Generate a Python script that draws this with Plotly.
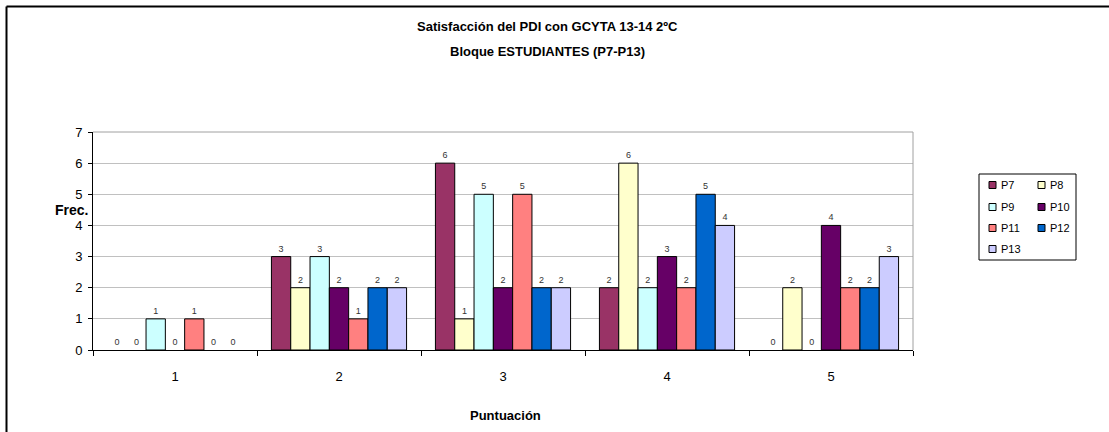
import plotly.graph_objects as go

# Score categories on the x axis
puntuacion = ["1", "2", "3", "4", "5"]

# Frequencies per question (P7-P13) for each score
p7 = [0, 3, 6, 2, 0]
p8 = [0, 2, 1, 6, 2]
p9 = [1, 3, 5, 2, 0]
p10 = [0, 2, 2, 3, 4]
p11 = [1, 1, 5, 2, 2]
p12 = [0, 2, 2, 5, 2]
p13 = [0, 2, 2, 4, 3]

series_names = ["P7", "P8", "P9", "P10", "P11", "P12", "P13"]
series_values = [p7, p8, p9, p10, p11, p12, p13]
series_colors = ["#993366", "#FFFFCC", "#CCFFFF", "#660066", "#FF8080", "#0066CC", "#CCCCFF"]

W, H = 1109, 432
L, R, T, B = 93, 196, 132, 82

fig = go.Figure()
for name, vals, col in zip(series_names, series_values, series_colors):
    fig.add_trace(go.Bar(
        x=puntuacion, y=vals, name=name,
        # no outline on empty bars
        marker=dict(color=col, line=dict(color="#000000",
                                         width=[1 if v > 0 else 0 for v in vals])),
        text=[str(v) for v in vals], textposition="outside",
        textfont=dict(family="Arial", size=9, color="#333333"),
        cliponaxis=False, showlegend=False,
    ))

pw = W - L - R
ph = H - T - B


def px_x(v):
    return (v - L) / pw


def px_y(v):
    return 1 - (v - T) / ph


annotations = [
    dict(text="<b>Satisfacción del PDI con GCYTA 13-14 2ºC</b>", xref="paper", yref="paper",
         x=px_x(547), y=px_y(27), xanchor="center", yanchor="middle",
         showarrow=False, font=dict(family="Arial", size=13)),
    dict(text="<b>Bloque ESTUDIANTES (P7-P13)</b>", xref="paper", yref="paper",
         x=px_x(547), y=px_y(51), xanchor="center", yanchor="middle",
         showarrow=False, font=dict(family="Arial", size=13)),
    dict(text="<b>Frec.</b>", xref="paper", yref="paper",
         x=px_x(90), y=px_y(210), xanchor="right", yanchor="middle",
         showarrow=False, font=dict(family="Arial", size=14)),
    dict(text="<b>Puntuación</b>", xref="paper", yref="paper",
         x=px_x(505), y=px_y(415), xanchor="center", yanchor="middle",
         showarrow=False, font=dict(family="Arial", size=13)),
]

shapes = [
    # plot-area frame (top and right edges in grey)
    dict(type="line", xref="paper", yref="paper", x0=0, x1=1, y0=1, y1=1,
         line=dict(color="#A0A0A0", width=1)),
    dict(type="line", xref="paper", yref="paper", x0=1, x1=1, y0=0, y1=1,
         line=dict(color="#A0A0A0", width=1)),
    # chart-area border
    dict(type="line", xref="paper", yref="paper",
         x0=px_x(6.5), x1=px_x(1120), y0=px_y(6.5), y1=px_y(6.5),
         line=dict(color="#000000", width=2)),
    dict(type="line", xref="paper", yref="paper",
         x0=px_x(6.5), x1=px_x(6.5), y0=px_y(6.5), y1=px_y(445),
         line=dict(color="#000000", width=2)),
    # legend box
    dict(type="rect", xref="paper", yref="paper",
         x0=px_x(979), x1=px_x(1076), y0=px_y(174), y1=px_y(260),
         line=dict(color="#000000", width=1), fillcolor="white"),
]

# two-column legend: swatch + label for each series
col_x = [989, 1038]
row_y = [185, 207, 228, 249]
for i, (name, col) in enumerate(zip(series_names, series_colors)):
    cx = col_x[i % 2]
    cy = row_y[i // 2]
    shapes.append(dict(type="rect", xref="paper", yref="paper",
                       x0=px_x(cx), x1=px_x(cx + 7), y0=px_y(cy - 3.5), y1=px_y(cy + 3.5),
                       line=dict(color="#000000", width=1), fillcolor=col))
    annotations.append(dict(text=name, xref="paper", yref="paper",
                            x=px_x(cx + 10), y=px_y(cy), xanchor="left", yanchor="middle",
                            showarrow=False, font=dict(family="Arial", size=11)))

fig.update_layout(
    width=W, height=H,
    margin=dict(l=L, r=R, t=T, b=B, autoexpand=False),
    paper_bgcolor="white", plot_bgcolor="white",
    barmode="group", bargap=0.176, bargroupgap=0,
    font=dict(family="Arial", color="#000000"),
    showlegend=False,
    xaxis=dict(
        type="category", tickson="boundaries", ticks="outside", ticklen=5,
        tickcolor="#000000", showline=True, linecolor="#000000", linewidth=1,
        showgrid=False, tickfont=dict(family="Arial", size=13),
        range=[-0.5, 4.5], ticklabelstandoff=14,
    ),
    yaxis=dict(
        range=[0, 7], dtick=1, ticks="outside", ticklen=4, tickcolor="#000000",
        showline=True, linecolor="#000000", linewidth=1,
        showgrid=True, gridcolor="#C0C0C0", gridwidth=1,
        tickfont=dict(family="Arial", size=13), zeroline=False,
        ticklabelstandoff=3,
    ),
    annotations=annotations,
    shapes=shapes,
)

fig.write_html("out.html")
